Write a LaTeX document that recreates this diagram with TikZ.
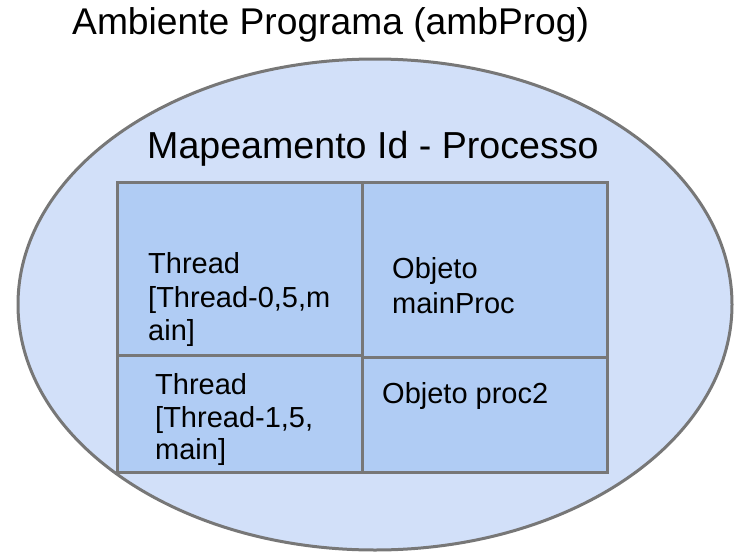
\documentclass[tikz,border=0pt]{standalone}
\usepackage{fontspec}
\setmainfont{Liberation Sans}
\definecolor{envfill}{HTML}{D2E0F9}
\definecolor{cellfill}{HTML}{B0CCF4}
\definecolor{edge}{HTML}{777777}
\begin{document}
\begin{tikzpicture}[x=1pt,y=-1pt,
  outline/.style={draw=edge,line width=3pt},
  cellbox/.style={outline,fill=cellfill},
  bigtext/.style={anchor=base west,inner sep=0pt,font=\fontsize{37.2}{42}\selectfont},
  celltext/.style={anchor=base west,inner sep=0pt,font=\fontsize{29}{33}\selectfont}]
\useasboundingbox (0,0) rectangle (740,555);

% program environment
\node[bigtext] (title) at (72,34.5) {Ambiente Programa (ambProg)};
\draw[outline,fill=envfill] (375,304.5) ellipse [x radius=357,y radius=245.5];
\coordinate (env) at (375,304.5);

% id -> process map
\node[bigtext,font=\fontsize{37.6}{42}\selectfont] (maptitle) at (147,158) {Mapeamento Id - Processo};
\draw[cellbox] (117,182) rectangle (362,355);
\draw[cellbox] (117,355) rectangle (362,472);
\draw[cellbox] (362,182) rectangle (607,357);
\draw[cellbox] (362,357) rectangle (607,472);

% keys
\node[celltext] (k1a) at (148,273) {Thread};
\node[celltext] (k1b) at (148,307) {[Thread-0,5,m};
\node[celltext] (k1c) at (148,340) {ain]};
\node[celltext] (k2a) at (155,394) {Thread};
\node[celltext] (k2b) at (155,427) {[Thread-1,5,};
\node[celltext] (k2c) at (155,459) {main]};

% values
\node[celltext] (v1a) at (392,278) {Objeto};
\node[celltext] (v1b) at (392,313) {mainProc};
\node[celltext] (v2) at (382,403) {Objeto proc2};
\end{tikzpicture}
\end{document}
